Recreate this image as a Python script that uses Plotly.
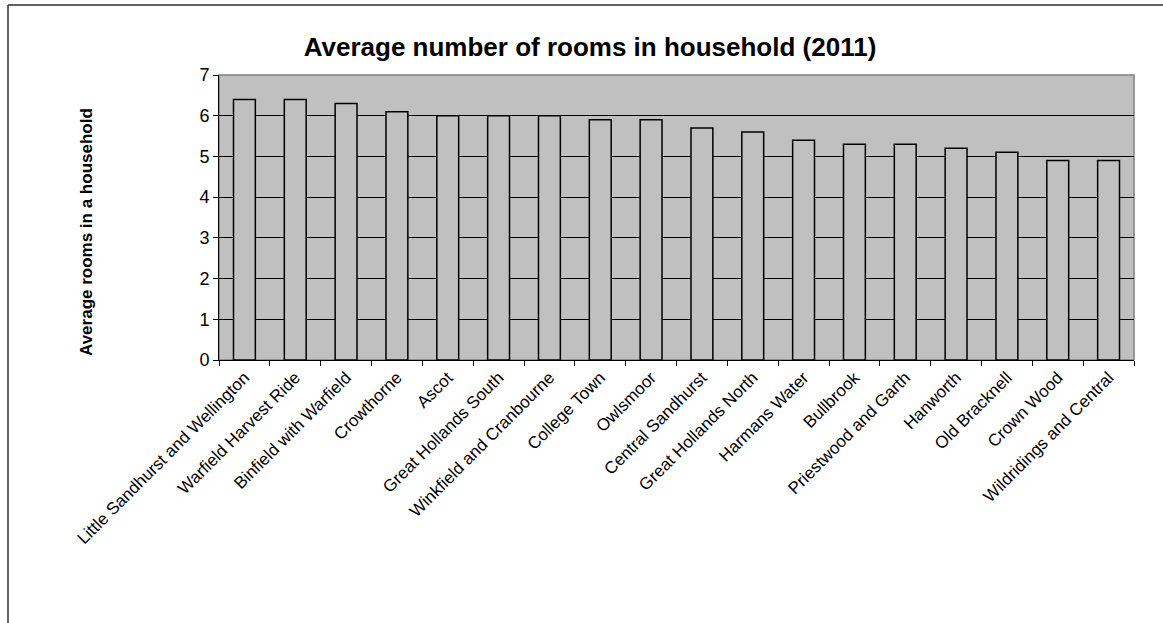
import plotly.graph_objects as go

# ── Data ────────────────────────────────────────────────────────────────────
WARDS = [
    "Little Sandhurst and Wellington", "Warfield Harvest Ride", "Binfield with Warfield",
    "Crowthorne", "Ascot", "Great Hollands South", "Winkfield and Cranbourne",
    "College Town", "Owlsmoor", "Central Sandhurst", "Great Hollands North",
    "Harmans Water", "Bullbrook", "Priestwood and Garth", "Hanworth",
    "Old Bracknell", "Crown Wood", "Wildridings and Central",
]
AVG_ROOMS = [6.4, 6.4, 6.3, 6.1, 6.0, 6.0, 6.0, 5.9, 5.9, 5.7, 5.6, 5.4, 5.3, 5.3, 5.2, 5.1, 4.9, 4.9]
Y_TICKS = [0, 1, 2, 3, 4, 5, 6, 7]

FONT = "Liberation Sans, Arial, sans-serif"
PLOT_GREY = "#c0c0c0"

# plot area in pixels (figure is 1163 x 623)
L, R, T, B = 219, 1134, 75, 360
W, H = R - L, B - T

fig = go.Figure(
    go.Bar(
        x=WARDS,
        y=AVG_ROOMS,
        marker=dict(color=PLOT_GREY, line=dict(color="black", width=1.5)),
        width=0.43,
        hovertemplate="%{x}: %{y}<extra></extra>",
    )
)

# plot-area frame (grey) and outer chart border (left + top only visible)
fig.add_shape(type="rect", xref="paper", yref="paper", x0=0, x1=1, y0=0, y1=1,
              line=dict(color="#808080", width=1.5), layer="below")
fig.add_shape(type="line", xref="paper", yref="paper",
              x0=(8 - L) / W, x1=1.2, y0=(B - 5) / H, y1=(B - 5) / H,
              line=dict(color="#303030", width=1.5))
fig.add_shape(type="line", xref="paper", yref="paper",
              x0=(8 - L) / W, x1=(8 - L) / W, y0=(B - 5) / H, y1=-1.3,
              line=dict(color="#303030", width=1.5))

# y-axis title as an annotation so it sits where the original has it
fig.add_annotation(
    text="<b>Average rooms in a household</b>",
    xref="paper", yref="paper", x=(87 - L) / W, y=(B - 232) / H,
    xanchor="center", yanchor="middle",
    textangle=-90, showarrow=False,
    font=dict(size=17, family=FONT, color="black"),
)

fig.update_layout(
    width=1163, height=623,
    paper_bgcolor="white",
    plot_bgcolor=PLOT_GREY,
    font=dict(family=FONT, color="black"),
    title=dict(
        text="<b>Average number of rooms in household (2011)</b>",
        font=dict(size=26, family=FONT, color="black"),
        x=590 / 1163, xanchor="center", xref="container",
        y=1 - 47 / 623, yanchor="middle",
    ),
    xaxis=dict(
        tickangle=-45,
        tickfont=dict(size=17, family=FONT),
        showline=True, linecolor="black", linewidth=1,
        ticks="outside", tickson="boundaries", ticklen=5, tickcolor="black",
        showgrid=False,
    ),
    yaxis=dict(
        range=[0, 7],
        tickvals=Y_TICKS,
        tickfont=dict(size=18, family=FONT),
        showline=True, linecolor="black", linewidth=1,
        ticks="outside", ticklen=5, tickcolor="black",
        showgrid=True, gridcolor="black", gridwidth=1,
        zeroline=False,
    ),
    showlegend=False,
    margin=dict(l=L, r=1163 - R, t=T, b=623 - B, autoexpand=False),
)

fig.write_html(
    "out.html",
    config={"displayModeBar": False},
    post_script="document.body.style.margin='0px';",
)
